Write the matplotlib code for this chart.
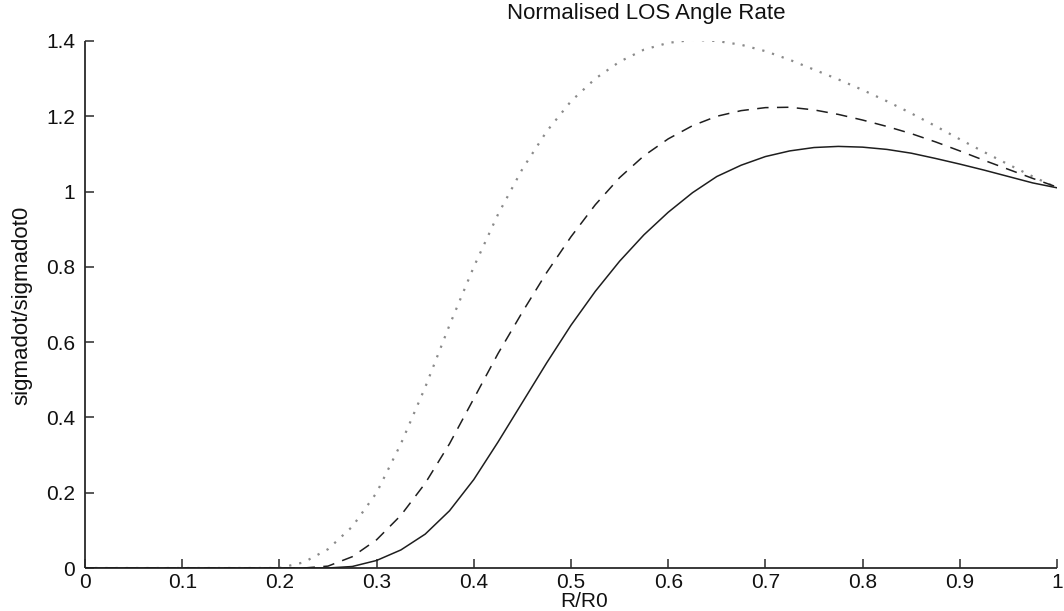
import matplotlib
matplotlib.use("Agg")
import matplotlib.pyplot as plt

# R/R0 sample points and normalised LOS angle rate for the three cases
r_ratio = [0.0, 0.1, 0.2, 0.225, 0.25, 0.275, 0.3, 0.325, 0.35, 0.375, 0.4,
           0.425, 0.45, 0.475, 0.5, 0.525, 0.55, 0.575, 0.6, 0.625, 0.65,
           0.675, 0.7, 0.725, 0.75, 0.775, 0.8, 0.825, 0.85, 0.875, 0.9,
           0.925, 0.95, 0.975, 1.0]

rate_solid = [0, 0, 0, 0, 0, 0.004, 0.02, 0.048, 0.09, 0.152, 0.235,
              0.335, 0.44, 0.545, 0.645, 0.735, 0.815, 0.885, 0.945, 0.997, 1.04,
              1.07, 1.093, 1.108, 1.117, 1.12, 1.118, 1.112, 1.102, 1.088, 1.073,
              1.057, 1.04, 1.023, 1.01]

rate_dashed = [0, 0, 0, 0, 0.005, 0.03, 0.075, 0.14, 0.225, 0.33, 0.45,
               0.57, 0.68, 0.785, 0.88, 0.965, 1.037, 1.095, 1.14, 1.175, 1.2,
               1.215, 1.223, 1.224, 1.217, 1.205, 1.19, 1.173, 1.154, 1.132, 1.108,
               1.083, 1.059, 1.035, 1.012]

rate_dotted = [0, 0, 0, 0.015, 0.05, 0.11, 0.2, 0.33, 0.48, 0.645, 0.8,
               0.94, 1.06, 1.16, 1.24, 1.3, 1.345, 1.377, 1.395, 1.403, 1.4,
               1.39, 1.373, 1.35, 1.324, 1.298, 1.27, 1.24, 1.208, 1.174, 1.139,
               1.105, 1.072, 1.04, 1.01]

x_ticks = [0, 0.1, 0.2, 0.3, 0.4, 0.5, 0.6, 0.7, 0.8, 0.9, 1]
x_tick_labels = ["0", "0.1", "0.2", "0.3", "0.4", "0.5", "0.6", "0.7", "0.8", "0.9", "1"]
y_ticks = [0, 0.2, 0.4, 0.6, 0.8, 1.0, 1.2, 1.4]
y_tick_labels = ["0", "0.2", "0.4", "0.6", "0.8", "1", "1.2", "1.4"]

plt.rcParams["font.family"] = ["Liberation Sans", "DejaVu Sans"]
FS = 16
TICK_FS = 15

fig = plt.figure(figsize=(10.64, 6.11), dpi=100)
ax = fig.add_axes([85 / 1064, 1 - 568 / 611, (1057 - 85) / 1064, (568 - 41) / 611])

ax.plot(r_ratio, rate_dotted, color="#8a8a8a", lw=1.6,
        linestyle=(0, (1.0, 3.6)), zorder=2)
ax.plot(r_ratio, rate_dashed, color="#1e1e1e", lw=1.1,
        linestyle=(0, (7.5, 5.5)), zorder=3)
ax.plot(r_ratio, rate_solid, color="#1e1e1e", lw=1.1, zorder=4)

ax.set_xlim(0, 1)
ax.set_ylim(0, 1.4)
ax.set_xticks(x_ticks)
ax.set_xticklabels(x_tick_labels, fontsize=TICK_FS)
ax.set_yticks(y_ticks)
ax.set_yticklabels(y_tick_labels, fontsize=TICK_FS)

for side in ("top", "right"):
    ax.spines[side].set_visible(False)
for side in ("left", "bottom"):
    ax.spines[side].set_linewidth(1.3)
    ax.spines[side].set_color("#2a2a2a")
    ax.spines[side].set_capstyle("butt")

ax.tick_params(axis="both", direction="in", length=6.5, width=1.1,
               color="#2a2a2a", labelcolor="#111111")
ax.tick_params(axis="x", pad=3.5)
ax.tick_params(axis="y", pad=7)

fig.text(646 / 1064, 1 - 14 / 611, "Normalised LOS Angle Rate",
         ha="center", va="center", fontsize=FS, color="#111111")
fig.text(584 / 1064, 1 - 607 / 611, "R/R0",
         ha="center", va="baseline", fontsize=TICK_FS, color="#111111")
fig.text(22 / 1064, 1 - 305 / 611, "sigmadot/sigmadot0",
         ha="center", va="center", rotation=90, fontsize=FS, color="#111111")

fig.savefig("out.png", dpi=100, facecolor="white")
